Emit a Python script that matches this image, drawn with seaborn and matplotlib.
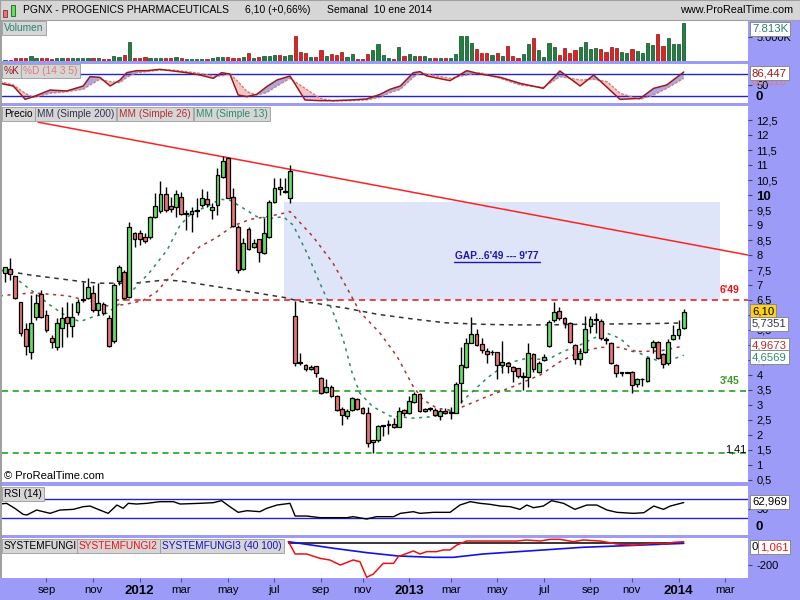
import numpy as np
import pandas as pd
import matplotlib
matplotlib.use("Agg")
import matplotlib.pyplot as plt
from matplotlib.patches import Rectangle
from matplotlib.lines import Line2D
import seaborn as sns

# Weekly candles PGNX, 8 Jul 2011 .. 10 Jan 2014
open_ = [7.41, 7.52, 7.30, 6.44, 5.52, 4.76, 5.94, 6.69, 6.00, 5.22,
         4.92, 5.56, 5.94, 5.63, 6.09, 6.51, 6.56, 6.74, 6.17, 6.37,
         5.89, 5.14, 7.13, 7.44, 6.61, 8.72, 8.74, 8.59, 8.59, 9.28,
         9.47, 10.02, 9.63, 9.59, 9.92, 9.38, 9.36, 9.47, 9.66, 9.86,
         9.50, 9.67, 10.59, 11.22, 9.92, 8.92, 7.52, 8.86, 8.26, 8.52,
         8.06, 8.59, 9.78, 10.26, 10.10, 9.89, 5.97, 4.42, 4.34, 4.21,
         4.29, 3.89, 3.44, 3.61, 3.30, 2.86, 2.63, 2.83, 3.20, 2.91,
         2.72, 1.75, 1.83, 2.30, 2.32, 2.36, 2.28, 2.83, 2.72, 3.11,
         3.36, 2.81, 2.88, 2.83, 2.63, 2.81, 2.73, 2.74, 3.72, 4.26,
         5.08, 5.36, 5.03, 4.80, 4.75, 4.76, 4.33, 4.41, 4.28, 4.22,
         3.93, 3.92, 4.69, 4.11, 4.50, 4.97, 5.83, 6.14, 5.89, 5.72,
         5.00, 4.52, 4.78, 5.63, 5.82, 5.81, 5.20, 5.06, 4.33, 4.08,
         4.08, 4.11, 3.70, 3.85, 3.81, 4.94, 5.09, 4.70, 4.39, 5.19,
         5.33, 5.56]
high = [7.61, 7.89, 7.30, 6.44, 5.72, 6.67, 6.70, 6.83, 6.17, 5.33,
        5.89, 6.28, 6.44, 6.39, 6.52, 7.11, 7.22, 7.00, 7.06, 6.44,
        6.00, 7.08, 7.67, 7.50, 9.11, 8.78, 8.83, 8.72, 9.30, 10.06,
        10.48, 10.28, 9.94, 10.17, 10.11, 9.50, 9.61, 9.89, 10.19, 10.14,
        9.72, 10.89, 11.31, 11.28, 10.22, 9.00, 8.56, 8.92, 8.52, 8.52,
        9.22, 9.83, 10.56, 10.56, 10.56, 11.00, 6.47, 4.72, 4.37, 4.33,
        4.31, 3.92, 3.86, 3.67, 3.33, 2.94, 2.86, 3.25, 3.22, 2.94,
        2.94, 1.83, 2.33, 2.33, 2.50, 2.56, 2.94, 2.86, 3.30, 3.44,
        3.41, 2.89, 2.94, 2.89, 2.86, 2.89, 2.94, 3.78, 4.92, 5.22,
        5.94, 5.52, 5.22, 4.89, 4.83, 4.78, 5.13, 4.44, 4.30, 4.24,
        4.11, 5.06, 4.74, 4.48, 4.70, 5.83, 6.44, 6.25, 5.94, 5.78,
        5.03, 4.89, 5.97, 5.97, 6.08, 5.86, 5.28, 5.11, 4.36, 4.11,
        4.11, 4.13, 3.89, 3.89, 4.61, 5.17, 5.14, 4.72, 5.19, 5.67,
        5.83, 6.19]
low = [7.11, 7.17, 6.52, 5.30, 4.67, 4.52, 5.83, 5.89, 5.44, 4.89,
       4.83, 4.94, 5.28, 5.28, 6.00, 6.44, 6.52, 6.11, 6.00, 6.00,
       4.94, 5.08, 7.00, 6.52, 6.56, 8.28, 8.33, 8.39, 8.52, 9.22,
       9.39, 9.44, 9.44, 9.28, 9.33, 8.83, 8.78, 9.28, 9.61, 9.61,
       9.19, 9.33, 10.56, 9.89, 8.92, 7.41, 7.50, 8.17, 8.22, 7.78,
       8.03, 8.56, 9.72, 10.00, 10.06, 9.74, 4.30, 4.33, 4.14, 4.17,
       3.92, 3.36, 3.41, 3.28, 2.81, 2.33, 2.53, 2.81, 2.83, 2.70,
       1.59, 1.39, 1.78, 1.97, 2.03, 2.24, 2.26, 2.63, 2.70, 3.08,
       2.78, 2.78, 2.81, 2.63, 2.50, 2.70, 2.52, 2.72, 3.08, 4.22,
       5.06, 4.97, 4.72, 4.41, 4.67, 3.86, 4.06, 4.06, 3.78, 3.89,
       3.50, 3.59, 4.11, 4.06, 4.46, 4.92, 5.78, 5.83, 5.55, 5.06,
       4.37, 4.33, 4.72, 5.41, 5.41, 5.17, 5.03, 4.37, 3.92, 3.96,
       4.06, 3.41, 3.59, 3.64, 3.78, 4.72, 4.52, 4.22, 4.33, 5.17,
       5.21, 5.52]
close = [7.59, 7.37, 6.56, 5.41, 4.98, 5.72, 6.41, 5.92, 5.49, 5.09,
         5.72, 5.89, 5.72, 5.92, 6.44, 6.53, 6.92, 6.17, 6.41, 6.06,
         4.98, 7.00, 7.59, 6.56, 8.94, 8.52, 8.52, 8.48, 9.26, 9.64,
         10.02, 9.50, 9.54, 10.02, 9.36, 9.40, 9.47, 9.49, 9.89, 9.69,
         9.61, 10.66, 11.14, 9.91, 8.98, 7.50, 8.41, 8.19, 8.41, 8.11,
         8.74, 9.76, 10.24, 10.19, 10.12, 10.80, 4.39, 4.40, 4.19, 4.26,
         4.06, 3.39, 3.61, 3.30, 2.83, 2.66, 2.81, 3.22, 2.87, 2.74,
         1.72, 1.83, 2.30, 2.32, 2.34, 2.26, 2.81, 2.72, 3.13, 3.36,
         2.81, 2.87, 2.90, 2.66, 2.81, 2.74, 2.75, 3.69, 4.33, 5.06,
         5.36, 5.00, 4.83, 4.69, 4.77, 4.33, 4.42, 4.30, 4.13, 3.97,
         3.95, 4.72, 4.19, 4.41, 4.59, 5.76, 6.11, 5.89, 5.74, 5.11,
         4.52, 4.74, 5.52, 5.86, 5.84, 5.22, 5.18, 4.39, 4.08, 4.10,
         4.10, 3.67, 3.86, 3.87, 4.56, 5.09, 4.56, 4.36, 5.11, 5.33,
         5.52, 6.10]
volume_k = [0.21, 0.21, 0.55, 0.55, 0.55, 1.04, 0.55, 0.55, 0.55, 0.35,
            0.55, 0.55, 0.55, 0.55, 0.55, 0.55, 0.55, 0.55, 0.55, 0.35,
            0.35, 1.04, 0.90, 1.24, 3.86, 0.55, 0.55, 0.76, 0.55, 0.55,
            0.55, 0.55, 0.55, 0.76, 0.55, 0.35, 0.35, 0.35, 0.35, 0.35,
            0.55, 0.76, 0.76, 0.76, 0.55, 0.55, 0.76, 1.59, 0.55, 0.90,
            1.04, 1.04, 1.24, 1.24, 1.04, 1.24, 5.18, 1.93, 1.59, 0.90,
            0.76, 2.28, 1.04, 1.45, 1.24, 1.79, 0.76, 1.45, 0.35, 0.35,
            1.45, 2.28, 3.45, 1.24, 0.55, 0.35, 2.97, 1.04, 1.45, 1.04,
            1.04, 1.04, 0.55, 0.55, 0.55, 0.55, 0.55, 1.45, 5.18, 5.18,
            3.80, 2.42, 1.73, 1.73, 1.24, 1.73, 1.04, 3.11, 1.04, 0.55,
            1.45, 3.52, 4.69, 2.28, 0.76, 3.66, 2.83, 1.24, 2.62, 1.59,
            2.28, 2.83, 4.00, 2.42, 2.62, 2.42, 1.93, 2.83, 2.62, 1.93,
            1.73, 2.42, 2.14, 1.59, 3.66, 3.31, 5.59, 3.11, 4.69, 3.45,
            3.45, 7.81]

# moving averages, read at sample weeks (week index, price)
ma200_idx = [-1, 5, 15, 18, 25, 31, 34, 41, 47, 54, 57, 60, 66, 72, 79, 85, 92, 98, 105, 111, 117, 124, 131]
ma200_val = [7.50, 7.33, 7.11, 7.06, 7.06, 7.17, 7.13, 6.94, 6.78, 6.58, 6.45, 6.39, 6.22, 6.02, 5.86,
             5.74, 5.69, 5.67, 5.67, 5.69, 5.70, 5.71, 5.735]
ma26_idx = [-1, 5.4, 12, 17, 20.3, 23.6, 26.6, 29.3, 31.3, 34.4, 37.6, 40.9, 44, 47.3, 50.6, 53.7, 55,
            59.5, 63.3, 66, 68.5, 72.4, 75.7, 78.8, 80.7, 83.4, 86.5, 89.2, 93, 98, 103.3, 107.1, 111,
            114.9, 118.7, 121.2, 126.4, 131]
ma26_val = [6.64, 6.74, 6.64, 6.44, 6.28, 6.37, 6.48, 6.78, 7.17, 7.74, 8.28, 8.59, 8.97, 9.19, 9.28, 9.39,
            9.45, 8.60, 7.73, 6.90, 6.10, 5.39, 4.61, 3.61, 3.17, 2.89, 2.81, 3.00, 3.28, 3.61, 4.00, 4.44,
            4.78, 4.92, 4.92, 4.78, 4.80, 4.967]
ma13_idx = [-1, 1, 2.9, 5.4, 8.7, 12, 14.5, 17, 19.7, 22.2, 24.7, 28, 31.3, 33.8, 36.3, 39, 41.5, 43.4,
            46, 48.6, 51.2, 53.7, 55.6, 58.3, 60.8, 63.3, 65.3, 67, 68.5, 71, 74.3, 78.8, 82.6, 86.5,
            89.2, 93, 96.9, 100.8, 104.6, 107.7, 111, 113.5, 116.2, 118.7, 121.2, 123.9, 127, 131]
ma13_val = [7.50, 7.41, 7.11, 6.78, 6.33, 5.94, 5.78, 5.94, 6.06, 6.39, 6.83, 7.44, 8.17, 9.00, 9.44,
            9.61, 9.86, 9.83, 9.56, 9.28, 9.22, 9.28, 9.00, 8.06, 7.05, 6.10, 5.17, 4.07, 3.39, 2.94,
            2.63, 2.56, 2.61, 2.83, 3.28, 3.89, 4.39, 4.56, 4.50, 4.78, 5.00, 5.22, 5.39, 5.22, 4.83,
            4.61, 4.41, 4.657]

trend_idx = [6.4, 143.4]
trend_val = [12.43, 8.00]
gap_low, gap_high = 6.49, 9.77
support_mid, support_low = 3.45, 1.41

# stochastic %K / %D (14 3 5)
stoch_idx = [-1, 1.6, 3.9, 5.5, 8.7, 11.9, 15.1, 16.4, 18.3, 20.3, 22.2, 23.5, 25.4, 27.4, 29.9, 32.5,
             35.0, 37.6, 40.2, 41.8, 43.4, 45.0, 46.7, 48.6, 50.5, 52.5, 55.0, 57.9, 60.8, 63.4, 66.6,
             69.8, 72.4, 74.3, 76.3, 78.8, 80.1, 81.4, 85.9, 89.1, 91.7, 95.6, 99.4, 103.9, 107.1,
             111.0, 113.6, 116.2, 118.7, 122.6, 125.2, 127.7, 131.0]
stoch_k = [54.7, 47.2, 9.7, 17.2, 35.9, 33.1, 47.2, 73.4, 71.5, 47.2, 64.0, 84.6, 90.3, 90.3, 94.0, 89.3,
           84.6, 78.1, 68.7, 84.6, 80.9, 21.9, 17.2, 23.8, 45.3, 64.0, 75.3, 7.9, 6.0, 6.0, 7.9, 10.7,
           23.8, 37.8, 47.2, 84.6, 87.4, 75.3, 62.2, 90.3, 80.9, 71.5, 54.7, 40.6, 89.3, 47.2, 78.1,
           43.4, 9.7, 12.5, 40.6, 50.0, 86.447]
stoch_d = [59.4, 50.0, 26.6, 15.4, 26.6, 31.2, 37.8, 50.0, 65.9, 59.4, 56.6, 71.5, 84.6, 87.4, 92.1, 92.1,
           87.4, 82.8, 75.3, 75.3, 80.9, 59.4, 31.2, 21.9, 28.5, 47.2, 68.7, 40.6, 12.5, 5.0, 6.0, 7.9,
           15.4, 28.5, 37.8, 71.5, 84.6, 80.9, 68.7, 78.1, 84.6, 68.7, 50.0, 43.4, 73.4, 64.0, 65.9,
           59.4, 26.6, 9.7, 21.9, 40.6, 68.7]

# RSI (14)
rsi_idx = [-1.0, 0.3, 1.9, 3.5, 4.2, 6.1, 8.7, 10.6, 13.2, 15.1, 16.4, 18.3, 19.9, 21.6, 22.8, 23.8,
           25.4, 27.4, 29.9, 32.5, 33.8, 37.6, 40.2, 41.8, 43.4, 45.0, 46.7, 49.2, 50.5, 52.5, 55.0,
           56.0, 58.2, 60.8, 63.4, 66.0, 67.2, 69.8, 71.7, 75.0, 76.3, 78.8, 80.1, 82.7, 85.9, 87.8,
           89.8, 91.7, 93.6, 95.6, 97.5, 99.4, 100.7, 102.0, 103.9, 105.5, 107.8, 110.0, 112.3,
           114.2, 116.2, 118.1, 121.3, 123.3, 125.2, 127.1, 128.4, 131.0]
rsi_val = [59.8, 61.3, 50.4, 37.3, 35.9, 46.7, 39.5, 46.7, 48.2, 54.0, 55.4, 46.7, 39.5, 57.6, 50.4, 61.3,
           59.8, 61.3, 64.9, 64.9, 59.8, 61.3, 62.7, 67.1, 54.0, 41.7, 45.3, 43.1, 50.4, 57.6, 61.3,
           33.7, 33.7, 30.1, 30.1, 30.1, 32.3, 27.2, 32.3, 32.3, 39.5, 43.1, 39.5, 41.7, 41.7, 57.6,
           64.9, 61.3, 59.1, 55.4, 54.0, 48.2, 57.6, 51.8, 55.4, 67.1, 61.3, 48.2, 57.6, 57.6, 46.7,
           41.7, 39.5, 40.9, 55.4, 48.2, 55.4, 62.969]

# SYSTEMFUNGI2 (red) / SYSTEMFUNGI3 (blue)
fungi2_idx = [54.7, 56.0, 58.2, 60.8, 62.7, 64.7, 67.2, 68.5, 69.8, 71.1, 73.0, 75.0, 75.9, 78.8, 80.1,
              81.4, 83.3, 84.6, 85.9, 87.2, 89.1, 95.6, 98.8, 100.7, 103.3, 105.2, 107.1, 109.7, 111.6,
              114.9, 118.1, 121.3, 123.9, 125.2, 127.1, 129.0, 131.0]
fungi2_val = [9, -101, -101, -140, -155, -200, -155, -170, -310, -280, -185, -185, -125, -74, -101,
              -80, -80, -65, -65, -21, 15, 15, 15, 24, 15, 30, 30, 9, 24, 15, -12, -21, -12, 0, -12, 3, 9]
fungi3_idx = [54.7, 63.4, 69.8, 75.9, 82.7, 86.5, 92.3, 102.0, 111.6, 121.3, 131.0]
fungi3_val = [9, -50, -89, -119, -131, -131, -101, -71, -41, -24, -6]

# month axis
tick_dates = ["2011-09-01", "2011-11-01", "2012-01-01", "2012-03-01", "2012-05-01", "2012-07-01",
              "2012-09-01", "2012-11-01", "2013-01-01", "2013-03-01", "2013-05-01", "2013-07-01",
              "2013-09-01", "2013-11-01", "2014-01-01", "2014-03-01"]
tick_labels = ["sep", "nov", "2012", "mar", "may", "jul", "sep", "nov", "2013", "mar", "may", "jul",
               "sep", "nov", "2014", "mar"]
price_ticks = [0.5, 1, 1.5, 2, 2.5, 3, 3.5, 4, 4.5, 5, 5.5, 6, 6.5, 7, 7.5, 8, 8.5, 9, 9.5, 10,
               10.5, 11, 11.5, 12, 12.5]

W, H = 800, 600
BG = "#9c9cf8"
GREEN, RED = "#66dd66", "#e87575"
XMIN, XMAX = -0.58, 143.4
FONT = ["Liberation Sans", "DejaVu Sans"]

sns.set_theme(style="white")
plt.rcParams["font.family"] = FONT


def fx(px):
    return px / W


def fy(py):
    return 1 - py / H


def panel(fig, top, bottom):
    ax = fig.add_axes([fx(2), fy(bottom), (748 - 2) / W, (bottom - top) / H])
    ax.set_facecolor("white")
    for s in ax.spines.values():
        s.set_visible(False)
    ax.set_xlim(XMIN, XMAX)
    ax.set_xticks([])
    ax.tick_params(axis="y", left=False, right=True, labelleft=False, labelright=True,
                   direction="out", length=3, width=0.8, color="#444466", pad=3, labelsize=8,
                   labelcolor="black")
    return ax


def tab(fig, x, y, text, color):
    fig.text(fx(x), fy(y), text, color=color, fontsize=7.3, va="center", ha="left", zorder=10,
             bbox=dict(boxstyle="square,pad=0.22", fc="#d6d6d6", ec="#9a9a9a", lw=0.6))


def value_box(fig, y, text, color, fc="white", x=752):
    fig.text(fx(x), fy(y), text, color=color, fontsize=8.2, va="center", ha="left", zorder=12,
             bbox=dict(boxstyle="square,pad=0.15", fc=fc, ec="#8a8a8a", lw=0.7))


fig = plt.figure(figsize=(W / 100, H / 100), dpi=100, facecolor=BG)

# header bar
fig.patches.append(Rectangle((0, fy(20)), 1, 20 / H, transform=fig.transFigure,
                             fc="#d6d6d6", ec="#a0a0a0", lw=0.8, zorder=0))
fig.patches.append(Rectangle((fx(3), fy(17)), fx(4), 7 / H, transform=fig.transFigure,
                             fc=RED, ec="#803030", lw=0.6))
fig.patches.append(Rectangle((fx(11), fy(16)), fx(4), 11 / H, transform=fig.transFigure,
                             fc=GREEN, ec="#206020", lw=0.6))
fig.patches.append(Rectangle((0, fy(578)), fx(2), 558 / H, transform=fig.transFigure,
                             fc="#a0a0a0", ec="none"))
fig.text(fx(23), fy(10), "PGNX - PROGENICS PHARMACEUTICALS", fontsize=7.5, va="center", color="black")
fig.text(fx(245), fy(10), "6,10 (+0,66%)", fontsize=7.5, va="center", color="black")
fig.text(fx(327), fy(10), "Semanal  10 ene 2014", fontsize=7.5, va="center", color="black")
fig.text(fx(793), fy(10), "www.ProRealTime.com", fontsize=7.8, va="center", ha="right", color="black")

idx = np.arange(len(close))
o, h, l, c = map(np.array, (open_, high, low, close))
up = c >= o

# volume
ax_v = panel(fig, 21, 61)
ax_v.bar(idx, volume_k, width=0.62, color=np.where(up, "#1f8040", "#e02222"),
         edgecolor=np.where(up, "#0c4a20", "#8a1010"), linewidth=0.5)
ax_v.set_ylim(0, 8.29)
ax_v.set_yticks([5.0], ["5.000K"])
tab(fig, 4, 28, "Volumen", "#2a8070")
value_box(fig, 29, "7.813K", "#2a8070")

# stochastic
ax_s = panel(fig, 64, 103)
sk, sd, sx = np.array(stoch_k), np.array(stoch_d), np.array(stoch_idx)
ax_s.fill_between(sx, sk, sd, where=sk >= sd, interpolate=True, color="#a9a9e6", lw=0)
ax_s.fill_between(sx, sk, sd, where=sk < sd, interpolate=True, color="#f5c6c6", lw=0)
ax_s.axhline(80, color="#2222cc", lw=1)
ax_s.axhline(20, color="#2222cc", lw=1)
sns.lineplot(x=sx, y=sd, ax=ax_s, color="#e07a7a", lw=1, linestyle=(0, (2, 1)))
sns.lineplot(x=sx, y=sk, ax=ax_s, color="#9b1b1b", lw=1.1)
ax_s.set_ylim(-0.6, 109)
ax_s.set_yticks([50], ["50"])
ax_s.set_ylabel("")
tab(fig, 4, 71, "%K", "#9b1b1b")
tab(fig, 23, 71, "%D (14 3 5)", "#e07a7a")
fig.text(fx(752), fy(82), "80,818", color="#e07a7a", fontsize=8.2, va="center", zorder=11)
value_box(fig, 73, "86,447", "#9b1b1b")
fig.text(fx(755), fy(97), "0", fontsize=9.5, weight="bold", va="center", color="black")

# price
ax_p = panel(fig, 106, 482)
ax_p.set_ylim(0.43, 12.97)
ax_p.add_patch(Rectangle((53.9, gap_low), 138.0 - 53.9, gap_high - gap_low, fc="#dfe5f8", ec="none", zorder=0))
ax_p.hlines(gap_low, 20.8, XMAX, color="#ee1111", lw=1.1, linestyle=(0, (4, 3)), zorder=1)
ax_p.axhline(support_mid, color="#119911", lw=1.1, linestyle=(0, (4, 3)), zorder=1)
ax_p.axhline(support_low, color="#119911", lw=1.1, linestyle=(0, (4, 3)), zorder=1)
sns.lineplot(x=ma200_idx, y=ma200_val, ax=ax_p, color="#333333", lw=1.1, linestyle=(0, (3, 3)), zorder=2)
sns.lineplot(x=ma26_idx, y=ma26_val, ax=ax_p, color="#b23030", lw=1.1, linestyle=(0, (2, 3)), zorder=2)
sns.lineplot(x=ma13_idx, y=ma13_val, ax=ax_p, color="#2e8a60", lw=1.1, linestyle=(0, (2, 3)), zorder=2)
sns.lineplot(x=trend_idx, y=trend_val, ax=ax_p, color="#ff2222", lw=1.1, zorder=2)
ax_p.vlines(idx, l, h, color="black", lw=1, zorder=3)
ax_p.bar(idx, np.maximum(np.abs(c - o), 0.03), bottom=np.minimum(o, c), width=0.74,
         color=np.where(up, GREEN, RED), edgecolor="black", linewidth=0.9, zorder=4)
ax_p.set_xlim(XMIN, XMAX)
ax_p.set_ylabel("")
ax_p.set_yticks(price_ticks, [f"{t:g}".replace(".", ",") for t in price_ticks])
for t in ax_p.get_yticklabels():
    if t.get_text() == "10":
        t.set_fontweight("bold")
        t.set_fontsize(9.5)
gx = 95.0
ax_p.text(gx, 7.97, "GAP...6'49 --- 9'77", color="#1a1aa8", fontsize=7.3, weight="bold",
          ha="center", va="center", zorder=5)
ax_p.add_line(Line2D([gx - 8.3, gx + 8.3], [7.77, 7.77], color="#1a1aa8", lw=1, zorder=5))
fig.text(fx(720), fy(290), "6'49", color="#ee1111", fontsize=7.5, weight="bold", va="center")
fig.text(fx(720), fy(381), "3'45", color="#3a9a20", fontsize=7.5, weight="bold", va="center")
fig.text(fx(725), fy(449), "1,41", color="black", fontsize=7.8, va="center")
fig.text(fx(4), fy(476), "© ProRealTime.com", color="black", fontsize=8, va="center")
tab(fig, 4, 114, "Precio", "black")
tab(fig, 37, 114, "MM (Simple 200)", "#333355")
tab(fig, 119, 114, "MM (Simple 26)", "#b23030")
tab(fig, 196, 114, "MM (Simple 13)", "#2e8a70")
value_box(fig, 311, "6,10", "black", fc="#ffd21a")
value_box(fig, 324, "5,7351", "#333355")
value_box(fig, 345, "4,9673", "#b23030")
value_box(fig, 357, "4,6569", "#2e8a70")

# RSI
ax_r = panel(fig, 486, 535)
ax_r.axhline(70, color="#2222cc", lw=1)
ax_r.axhline(30, color="#2222cc", lw=1)
sns.lineplot(x=rsi_idx, y=rsi_val, ax=ax_r, color="black", lw=1)
ax_r.set_ylim(-7.6, 99)
ax_r.set_yticks([50], ["50"])
ax_r.set_ylabel("")
tab(fig, 4, 494, "RSI (14)", "black")
value_box(fig, 502, "62,969", "black")
fig.text(fx(755), fy(527), "0", fontsize=9.5, weight="bold", va="center", color="black")

# SYSTEMFUNGI
ax_f = panel(fig, 538, 578)
ax_f.hlines(0, fungi2_idx[0], fungi2_idx[-1], color="black", lw=1.1, zorder=1)
sns.lineplot(x=fungi3_idx, y=fungi3_val, ax=ax_f, color="#1111ee", lw=1.2, zorder=2)
sns.lineplot(x=fungi2_idx, y=fungi2_val, ax=ax_f, color="#ee1111", lw=1.1, zorder=3)
ax_f.set_ylim(-316, 42)
ax_f.set_yticks([-200], ["-200"])
ax_f.set_ylabel("")
tab(fig, 4, 546, "SYSTEMFUNGI", "black")
tab(fig, 79, 546, "SYSTEMFUNGI2", "#ee1111")
tab(fig, 162, 546, "SYSTEMFUNGI3 (40 100)", "#1111cc")
fig.text(fx(752), fy(547), "0", color="black", fontsize=8.2, va="center", zorder=12,
         bbox=dict(boxstyle="square,pad=0.15", fc="white", ec="#8a8a8a", lw=0.7))
fig.text(fx(760), fy(547), "1,061", color="#ee1111", fontsize=8.2, va="center", zorder=13,
         bbox=dict(boxstyle="square,pad=0.15", fc="white", ec="#8a8a8a", lw=0.7))

# month axis under the last panel
start = pd.Timestamp("2011-07-08")
pos = []
for d in pd.to_datetime(tick_dates):
    fri = d + pd.Timedelta(days=(4 - d.weekday()) % 7)
    pos.append((fri - start).days / 7)
ax_f.set_xticks(pos, tick_labels)
ax_f.tick_params(axis="x", bottom=True, direction="out", length=3, width=0.8, color="#555577",
                 pad=2, labelsize=8.2, labelcolor="black")
for t in ax_f.get_xticklabels():
    if t.get_text().isdigit():
        t.set_fontweight("bold")
        t.set_fontsize(9.5)
ax_f.set_xlim(XMIN, XMAX)

fig.savefig("out.png", dpi=100, facecolor=BG)
